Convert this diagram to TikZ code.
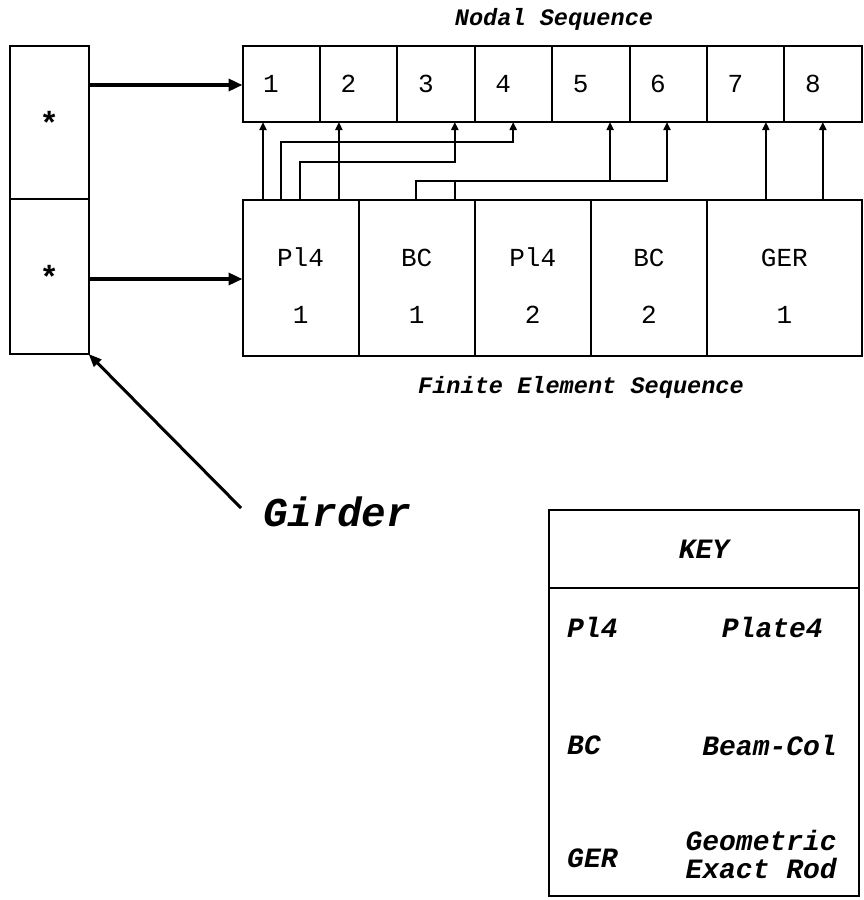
\documentclass[tikz,border=0pt]{standalone}
\usepackage{fontspec}
\setmonofont{Liberation Mono}
\usetikzlibrary{arrows.meta,positioning}

\begin{document}
\begin{tikzpicture}[x=1pt,y=-1pt,
  cellbox/.style={draw,line width=2pt,outer sep=0pt,inner sep=0pt,
    font=\ttfamily\fontsize{26}{57}\selectfont},
  nodalcell/.style={cellbox,minimum width=77.4pt,minimum height=76pt,text width=36pt,align=left},
  elemcell/.style={cellbox,minimum height=156pt,align=center,text height=92pt},
  girdcell/.style={draw,line width=2.2pt,outer sep=0pt,minimum width=78.6pt,
    font=\ttfamily\bfseries\fontsize{32}{32}\selectfont},
  keybox/.style={draw,line width=2pt,outer sep=0pt,minimum width=310pt,
    font=\ttfamily\bfseries\itshape\fontsize{28}{28}\selectfont},
  keytxt/.style={font=\ttfamily\bfseries\itshape\fontsize{28}{28}\selectfont,inner sep=0pt},
  caption/.style={font=\ttfamily\bfseries\itshape\fontsize{23.6}{28}\selectfont},
  feed/.style={line width=3.4pt,-{Triangle[length=14pt,width=12pt]}},
  link/.style={line width=2pt,-{Triangle[length=8pt,width=7pt]}},
  pointer/.style={line width=3pt,-{Triangle[length=13pt,width=10pt]}}
]
  \useasboundingbox (0,0) rectangle (864,900);

  % Girder
  \node[girdcell,minimum height=153pt,anchor=north west] (g1) at (10,46) {*};
  \node[girdcell,minimum height=155pt,below=0pt of g1] (g2) {*};

  % Nodal sequence
  \node[nodalcell,anchor=north west] (n1) at (242.5,46) {1};
  \foreach \i [count=\j from 1] in {2,...,8}
    \node[nodalcell,right=0pt of n\j] (n\i) {\i};
  \node[caption] (nodaltitle) at (554,19) {Nodal Sequence};

  % Finite element sequence
  \node[elemcell,minimum width=116.1pt,anchor=north west] (e1) at (242.5,199.5) {Pl4\\1};
  \node[elemcell,minimum width=116.1pt,right=0pt of e1] (e2) {BC\\1};
  \node[elemcell,minimum width=116.1pt,right=0pt of e2] (e3) {Pl4\\2};
  \node[elemcell,minimum width=116.1pt,right=0pt of e3] (e4) {BC\\2};
  \node[elemcell,minimum width=154.8pt,right=0pt of e4] (e5) {GER\\1};
  \node[caption] (elemtitle) at (581,387) {Finite Element Sequence};

  % Girder to sequences
  \draw[feed] ([yshift=37.5pt]g1.east) -- ([yshift=37.5pt]g1.east -| n1.west);
  \draw[feed] ([yshift=-2.5pt]g2.east) -- ([yshift=-2.5pt]g2.east -| e1.west);

  % Element to node links
  \coordinate (busy) at ([yshift=-59pt]n1.south);
  \draw[link] ([xshift=20.5pt]n1.south west |- e1.north) -- ([xshift=20.5pt]n1.south west);
  \draw[link] ([xshift=38.5pt]e1.north west) |- ([xshift=38.5pt,yshift=-20pt]n4.south west)
    -- ([xshift=38.5pt]n4.south west);
  \draw[link] ([xshift=57.5pt]e1.north west) |- ([xshift=57.5pt,yshift=-40pt]n3.south west)
    -- ([xshift=57.5pt]n3.south west);
  \draw[link] ([xshift=19pt]n2.south west |- e1.north) -- ([xshift=19pt]n2.south west);
  \draw[link] ([xshift=57pt]e2.north west) |- ([xshift=37.5pt]n6.south west |- busy)
    -- ([xshift=37.5pt]n6.south west);
  \coordinate (stub) at ([xshift=96pt]e2.north west);
  \draw[line width=2pt] (stub) -- (stub |- busy);
  \draw[link] ([xshift=58pt]n5.south west |- busy) -- ([xshift=58pt]n5.south west);
  \draw[link] ([xshift=59pt]n7.south west |- e5.north) -- ([xshift=59pt]n7.south west);
  \draw[link] ([xshift=38.5pt]n8.south west |- e5.north) -- ([xshift=38.5pt]n8.south west);

  % Girder label
  \node[font=\ttfamily\bfseries\itshape\fontsize{41}{41}\selectfont,inner sep=2pt,anchor=west]
    (girdlbl) at (261,512) {Girder};
  \draw[pointer] ([xshift=-20pt,yshift=4pt]girdlbl.west) -- (g2.south east);

  % Key
  \node[keybox,minimum height=78pt,anchor=north west] (keyhead) at (549,510) {KEY};
  \node[keybox,minimum height=308pt,below=0pt of keyhead] (keybody) {};
  \node[keytxt,anchor=west] (kp) at ([xshift=18pt,yshift=-39pt]keybody.north west) {Pl4};
  \node[keytxt,anchor=west] (kb) at ([xshift=18pt,yshift=-157pt]keybody.north west) {BC};
  \node[keytxt,anchor=west] (kg) at ([xshift=18pt,yshift=-270pt]keybody.north west) {GER};
  \node[keytxt,anchor=east] (kpn) at ([xshift=-36pt]kp -| keybody.east) {Plate4};
  \node[keytxt,anchor=east] (kbn) at ([xshift=-22pt]kb -| keybody.east) {Beam-Col};
  \node[keytxt,anchor=east,align=right] (kgn) at ([xshift=-22pt,yshift=4pt]kg -| keybody.east)
    {Geometric\\Exact Rod};
\end{tikzpicture}
\end{document}
